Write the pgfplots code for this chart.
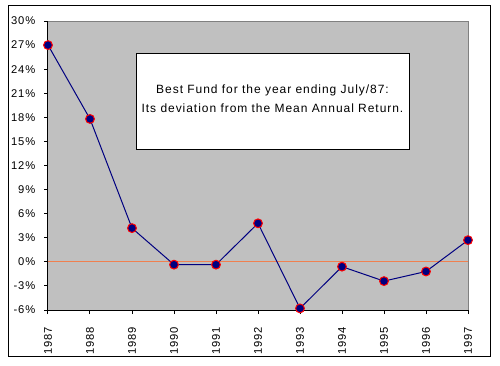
\documentclass[border=0pt]{standalone}
\usepackage{fontspec}
\setmainfont{Liberation Sans}[LetterSpace=8]
\usepackage{pgfplots}
\pgfplotsset{compat=1.18}
\definecolor{plotgray}{RGB}{192,192,192}
\definecolor{framegray}{RGB}{128,128,128}
\definecolor{zeroline}{RGB}{240,128,80}
\definecolor{navyline}{RGB}{0,0,128}
\begin{document}
\begin{tikzpicture}[x=0.75pt,y=0.75pt]
\useasboundingbox (-48,-55) rectangle (452,310);
\draw[black,line width=0.75pt] (-40,-46) rectangle (442,304);
\begin{axis}[
  at={(0,0)}, anchor=south west,
  scale only axis, width=315pt, height=216.75pt,
  xmin=1987, xmax=1997, ymin=-6, ymax=30,
  axis background/.style={fill=plotgray},
  axis lines*=left, axis line style={-, black, line width=0.75pt},
  tick align=outside, major tick length=3pt,
  tick style={black, line width=0.75pt},
  xtick={1987,1988,1989,1990,1991,1992,1993,1994,1995,1996,1997},
  xticklabels={1987,1988,1989,1990,1991,1992,1993,1994,1995,1996,1997},
  ytick={-6,-3,0,3,6,9,12,15,18,21,24,27,30},
  yticklabels={-6\%,-3\%,0\%,3\%,6\%,9\%,12\%,15\%,18\%,21\%,24\%,27\%,30\%},
  x tick label style={rotate=90, anchor=east, font=\fontsize{8.4}{10}\selectfont, xshift=-6.5pt},
  y tick label style={font=\fontsize{8.4}{10}\selectfont, xshift=-3pt},
  /pgf/number format/assume math mode=true,
  clip=false,
]
\draw[framegray, line width=0.75pt] (axis cs:1987,30) -- (axis cs:1997,30) -- (axis cs:1997,-6);
\draw[zeroline, line width=0.75pt] (axis cs:1987,0) -- (axis cs:1997,0);
\addplot[navyline, line width=0.75pt, mark=*, mark size=3.3pt,
  mark options={fill=navyline, draw=red, line width=0.75pt}]
coordinates {
(1987,27) (1988,17.8) (1989,4.2) (1990,-0.35) (1991,-0.35) (1992,4.8)
(1993,-5.8) (1994,-0.6) (1995,-2.4) (1996,-1.2) (1997,2.7)
};
\end{axis}
\draw[black, fill=white, line width=0.75pt] (88,161) rectangle (361,257);
\node[font=\fontsize{9}{11}\selectfont, align=center] at (224.5,211.5)
  {Best Fund for the year ending July/87:\\[3pt] Its deviation from the Mean Annual Return.};
\end{tikzpicture}
\end{document}
